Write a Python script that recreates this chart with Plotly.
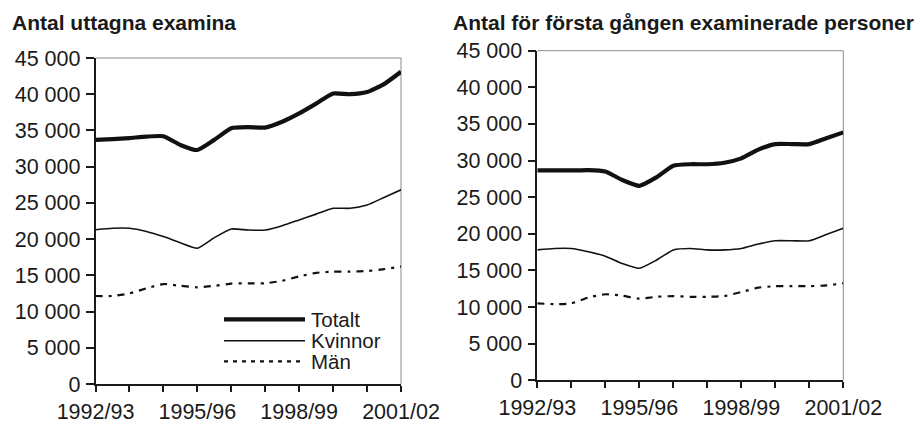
import plotly.graph_objects as go

# ---------------- data ----------------
years = ["1992/93", "1993/94", "1994/95", "1995/96", "1996/97",
         "1997/98", "1998/99", "1999/00", "2000/01", "2001/02"]
tick_labels = ["1992/93", "", "", "1995/96", "", "", "1998/99", "", "", "2001/02"]
# observations every half year-step
x_pos = [i * 0.5 for i in range(19)]

left_totalt = [33700, 33800, 33950, 34150, 34200, 33000, 32300, 33700, 35300, 35450,
               35400, 36200, 37350, 38700, 40100, 40000, 40300, 41400, 43100]
left_kvinnor = [21300, 21500, 21500, 21050, 20350, 19500, 18750, 20200, 21400, 21250,
                21250, 21850, 22650, 23450, 24250, 24250, 24700, 25750, 26800]
left_man = [12150, 12150, 12500, 13200, 13800, 13550, 13350, 13550, 13850, 13900,
            13900, 14250, 14850, 15350, 15500, 15500, 15600, 15850, 16200]

right_totalt = [28650, 28650, 28650, 28700, 28500, 27350, 26550, 27700, 29300, 29500,
                29500, 29700, 30300, 31500, 32250, 32250, 32250, 33050, 33850]
right_kvinnor = [17800, 18000, 18000, 17550, 16950, 15950, 15300, 16400, 17800, 18000,
                 17800, 17800, 18000, 18600, 19050, 19050, 19050, 19900, 20750]
right_man = [10500, 10400, 10500, 11300, 11750, 11550, 11150, 11400, 11500, 11400,
             11400, 11500, 12050, 12650, 12850, 12850, 12850, 12950, 13250]

series_names = ["Totalt", "Kvinnor", "Män"]
titles = ["Antal uttagna examina", "Antal för första gången examinerade personer"]
y_ticks = list(range(0, 45001, 5000))

# ---------------- layout constants ----------------
W, H = 919, 423
FONT = "Liberation Sans, Arial, sans-serif"
INK = "#1a1a1a"
TICK_SIZE = 21.5

def px_x(v):
    return v / W

def px_y(v):
    return (H - v) / H

styles = {
    "Totalt": dict(width=4.2, dash="solid"),
    "Kvinnor": dict(width=1.6, dash="solid"),
    "Män": dict(width=2.2, dash="7px,6px,3px,6px"),
}

fig = go.Figure()

panels = [
    ("x", "y", [left_totalt, left_kvinnor, left_man]),
    ("x2", "y2", [right_totalt, right_kvinnor, right_man]),
]
for xa, ya, data in panels:
    for name, vals in zip(series_names, data):
        st = styles[name]
        fig.add_trace(go.Scatter(
            x=x_pos, y=vals, mode="lines", name=name, showlegend=False,
            xaxis=xa, yaxis=ya,
            line=dict(color="#111111", width=st["width"], dash=st["dash"],
                      shape="spline", smoothing=0.5),
        ))

# domains (pixel positions of plot areas)
left_dom_x = [px_x(95.5), px_x(401)]
left_dom_y = [px_y(384), px_y(58)]
right_dom_x = [px_x(537.3), px_x(843.3)]
right_dom_y = [px_y(380.3), px_y(50.7)]

xaxis_common = dict(
    range=[0, 9], tickmode="array", tickvals=list(range(len(years))),
    ticktext=tick_labels, ticks="outside", ticklen=6, tickwidth=1.5,
    tickcolor=INK, showline=True, linecolor=INK, linewidth=1.5,
    showgrid=False, zeroline=False, ticklabelstandoff=1, automargin=False,
    tickfont=dict(family=FONT, size=TICK_SIZE, color=INK), fixedrange=True,
)
yaxis_common = dict(
    range=[0, 45000], tickmode="array", tickvals=y_ticks, tickformat=",d",
    ticks="outside", ticklen=8, tickwidth=1.5, tickcolor=INK,
    showline=True, linecolor=INK, linewidth=1.5, showgrid=False,
    zeroline=False, ticklabelstandoff=1, automargin=False,
    tickfont=dict(family=FONT, size=TICK_SIZE, color=INK), fixedrange=True,
)

fig.update_layout(
    width=W, height=H, margin=dict(l=0, r=0, t=0, b=0, autoexpand=False),
    paper_bgcolor="white", plot_bgcolor="white",
    separators=", ",
    showlegend=False,
    xaxis=dict(domain=left_dom_x, anchor="y", **xaxis_common),
    yaxis=dict(domain=left_dom_y, anchor="x", **yaxis_common),
    xaxis2=dict(domain=right_dom_x, anchor="y2", **xaxis_common),
    yaxis2=dict(domain=right_dom_y, anchor="x2", **yaxis_common),
)

# plot-area frames (thin grey, top and right)
for xd, yd in [(left_dom_x, left_dom_y), (right_dom_x, right_dom_y)]:
    fig.add_shape(type="line", xref="paper", yref="paper",
                  x0=xd[0], x1=xd[1], y0=yd[1], y1=yd[1],
                  line=dict(color="#8a8a8a", width=1), layer="below")
    fig.add_shape(type="line", xref="paper", yref="paper",
                  x0=xd[1], x1=xd[1], y0=yd[0], y1=yd[1],
                  line=dict(color="#8a8a8a", width=1), layer="below")

# titles
fig.add_annotation(text="<b>" + titles[0] + "</b>", xref="paper", yref="paper",
                   x=px_x(10), y=px_y(22.5), xanchor="left", yanchor="middle",
                   showarrow=False, font=dict(family=FONT, size=21, color=INK))
fig.add_annotation(text="<b>" + titles[1] + "</b>", xref="paper", yref="paper",
                   x=px_x(916), y=px_y(22.5), xanchor="right", yanchor="middle",
                   showarrow=False, font=dict(family=FONT, size=21, color=INK))

# legend (inside left panel)
leg_rows = [319.3, 340.7, 361.3]
leg_dash = {"Totalt": "solid", "Kvinnor": "solid", "Män": "4px,5px"}
for name, yy in zip(series_names, leg_rows):
    st = styles[name]
    fig.add_shape(type="line", xref="paper", yref="paper",
                  x0=px_x(224), x1=px_x(305), y0=px_y(yy), y1=px_y(yy),
                  line=dict(color="#111111", width=st["width"], dash=leg_dash[name]))
    fig.add_annotation(text=name, xref="paper", yref="paper",
                       x=px_x(309), y=px_y(yy), xanchor="left", yanchor="middle",
                       showarrow=False, font=dict(family=FONT, size=20.5, color=INK))

fig.write_html("out.html", config={"displayModeBar": False},
               post_script="document.body.style.margin='0';document.body.style.padding='0';")
